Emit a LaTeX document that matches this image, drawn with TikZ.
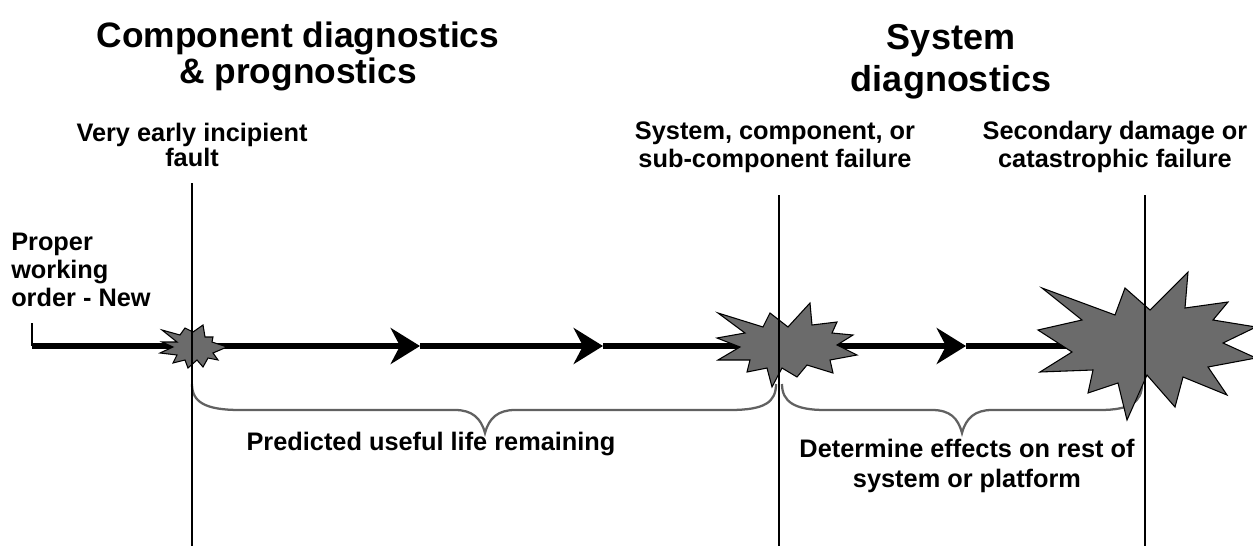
\documentclass[tikz,border=0pt]{standalone}
\usepackage{fontspec}
\setmainfont{Liberation Sans}
\usetikzlibrary{arrows.meta}
\newcommand\tightls{\lineskiplimit -20pt\relax}
\begin{document}
\begin{tikzpicture}[x=0.75pt,y=-0.75pt,
  lbl/.style={font=\bfseries\fontsize{19}{20.8}\selectfont\tightls, align=center, inner sep=0pt},
  ttl/.style={font=\bfseries\fontsize{26.5}{27}\selectfont\tightls, inner sep=0pt},
  ttlb/.style={font=\bfseries\fontsize{27}{31.5}\selectfont\tightls, inner sep=0pt},
  mainline/.style={line width=4.5pt},
  mainarrow/.style={mainline,-{Stealth[length=22pt,width=27pt,inset=7pt]}},
  vline/.style={line width=0.9pt},
  bracestyle/.style={draw=black!62, line width=1.7pt},
  burst/.style={fill=black!58, draw=black, line width=0.8pt, line join=miter}]
\useasboundingbox (0,0) rectangle (1253,546);

% coordinates on the time line
\coordinate (start) at (32,346);
\coordinate (tick) at (32,323);
\coordinate (s1) at (192,346);
\coordinate (a1) at (420,346);
\coordinate (a2) at (603,346);
\coordinate (s2) at (786,346);
\coordinate (a3) at (966,346);
\coordinate (s3) at (1145,346);

% main line
\draw[line width=1.2pt] (tick) -- (start);
\draw[mainarrow] (start) -- (a1);
\draw[mainarrow] (a1) -- (a2);
\draw[mainline] (a2) -- (s2);
\draw[mainarrow] (s2) -- (a3);
\draw[mainline] (a3) -- (s3);

% braces
\draw[bracestyle] (192,384) .. controls (192,402) and (205,410) .. (240,410)
  -- (455,410) .. controls (472,410) and (481,418) .. (485,433)
  .. controls (489,418) and (498,410) .. (515,410)
  -- (730,410) .. controls (765,410) and (776,402) .. (776,384);
\draw[bracestyle] (782,384) .. controls (782,402) and (795,410) .. (825,410)
  -- (932,410) .. controls (950,410) and (958,418) .. (962,433)
  .. controls (966,418) and (975,410) .. (992,410)
  -- (1100,410) .. controls (1130,410) and (1142,402) .. (1142,384);

% bursts
\filldraw[burst] (162,330) -- (180,335) -- (185,328) -- (193,332) -- (203,325)
  -- (205,337) -- (213,337) -- (212,342) -- (227,347) -- (213,353) -- (218,360)
  -- (208,358) -- (203,367) -- (197,360) -- (188,368) -- (185,360) -- (173,363)
  -- (177,355) -- (160,353) -- (173,347) -- (162,342) -- (177,342) -- cycle;
\filldraw[burst] (718,313) -- (745,333) -- (717,338) -- (740,347) -- (718,360)
  -- (750,360) -- (747,372) -- (767,368) -- (772,387) -- (782,368) -- (797,377)
  -- (807,365) -- (833,373) -- (830,360) -- (857,355) -- (837,345) -- (853,335)
  -- (832,333) -- (837,322) -- (812,325) -- (810,303) -- (788,327) -- (770,313)
  -- (763,327) -- cycle;
\filldraw[burst] (1042,288) -- (1082,320) -- (1038,330) -- (1072,352) -- (1040,372)
  -- (1093,370) -- (1088,393) -- (1118,383) -- (1127,420) -- (1147,375)
  -- (1175,407) -- (1183,377) -- (1227,395) -- (1208,367) -- (1256,358)
  -- (1223,343) -- (1256,327) -- (1213,320) -- (1228,302) -- (1185,308)
  -- (1188,272) -- (1150,310) -- (1125,288) -- (1115,315) -- cycle;

% vertical lines
\coordinate (v1t) at (192,183); \coordinate (v1b) at (192,546);
\coordinate (v2t) at (779,195); \coordinate (v2b) at (779,546);
\coordinate (v3t) at (1145,195); \coordinate (v3b) at (1145,546);
\draw[vline] (v1t) -- (v1b);
\draw[vline] (v2t) -- (v2b);
\draw[vline] (v3t) -- (v3b);

% texts
\node[ttl, align=center] (t1) at (298,56) {Component diagnostics\\\& prognostics};
\node[ttlb, align=center] (t2) at (951,62) {System\\diagnostics};
\node[lbl, font=\bfseries\fontsize{19}{19}\selectfont\tightls] (l1) at (192,145) {Very early incipient\\fault};
\node[lbl] (l2) at (775,147) {System, component, or\\sub-component failure};
\node[lbl] (l3) at (1115,147) {Secondary damage or\\catastrophic failure};
\node[lbl, anchor=west, align=left] (l4) at (11,270) {Proper\\working\\order - New};
\node[lbl] (l5) at (431,444) {Predicted useful life remaining};
\node[lbl, font=\bfseries\fontsize{19}{23}\selectfont] (l6) at (967,466) {Determine effects on rest of\\system or platform};
\end{tikzpicture}
\end{document}
